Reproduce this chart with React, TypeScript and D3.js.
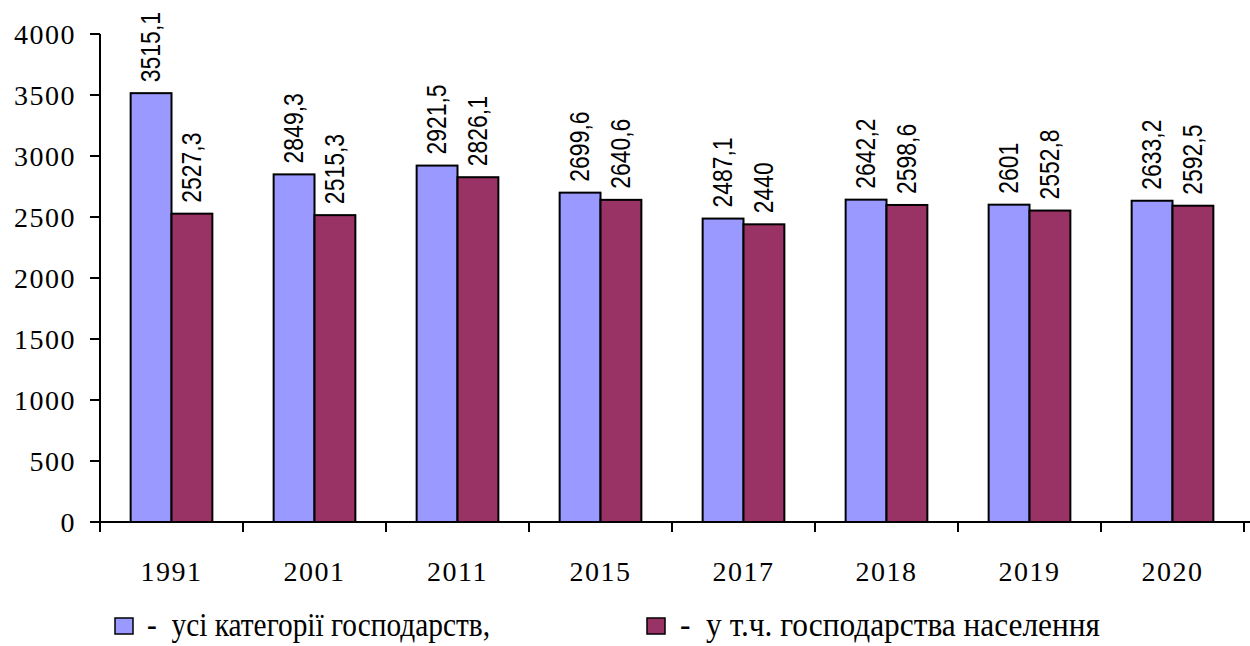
import React from 'react';
import * as d3 from 'd3';

const years = ['1991', '2001', '2011', '2015', '2017', '2018', '2019', '2020'];
const allFarms = [3515.1, 2849.3, 2921.5, 2699.6, 2487.1, 2642.2, 2601, 2633.2];
const households = [2527.3, 2515.3, 2826.1, 2640.6, 2440, 2598.6, 2552.8, 2592.5];
const yTicks = [0, 500, 1000, 1500, 2000, 2500, 3000, 3500, 4000];
const seriesNames = ['-  усі категорії господарств,', '-  у т.ч. господарства населення'];
const colors = ['#9999FF', '#993366'];

const W = 1250;
const H = 646;
const left = 100;
const right = 1244;
const top = 34;
const bottom = 522;

const fmt = (v: number) => String(v).replace('.', ',');

const App: React.FC = () => {
  const x = d3.scaleBand<string>().domain(years).range([left, right]);
  const y = d3.scaleLinear().domain([0, 4000]).range([bottom, top]);
  const inner = d3.scaleBand<number>().domain([0, 1]).range([0, x.bandwidth()]).paddingOuter(0.75).paddingInner(0);
  const serif = '"Liberation Serif", "Times New Roman", serif';
  const series = [allFarms, households];

  // legend placement
  const legend = [
    { sx: 115, tx: 147, len: 343 },
    { sx: 647, tx: 680, len: 420 },
  ];

  return (
    <svg width={W} height={H} style={{ position: 'absolute', left: 0, top: 0 }}>
      <rect width={W} height={H} fill="#fff" />
      {/* y axis */}
      <line x1={left} x2={left} y1={top} y2={bottom} stroke="#000" strokeWidth={2} />
      {yTicks.map(t => (
        <g key={t}>
          <line x1={left - 10} x2={left} y1={y(t)} y2={y(t)} stroke="#000" strokeWidth={2} />
          <text x={76} y={y(t)} dy="0.35em" textAnchor="end" fontFamily={serif} fontSize={28} letterSpacing={1.5}>{t}</text>
        </g>
      ))}
      {/* bars */}
      {years.map((yr, i) => (
        <g key={yr}>
          {series.map((s, k) => {
            const bx = (x(yr) as number) + (inner(k) as number);
            const bw = inner.bandwidth();
            const by = y(s[i]);
            return (
              <g key={k}>
                <rect x={bx} y={by} width={bw} height={bottom - by} fill={colors[k]} stroke="#000" strokeWidth={2} />
                <text transform={`translate(${bx + bw / 2 + 9},${by - 11}) rotate(-90) scale(0.85,1)`} fontFamily='"Liberation Sans", Arial, sans-serif' fontSize={27}>{fmt(s[i])}</text>
              </g>
            );
          })}
        </g>
      ))}
      {/* x axis */}
      <line x1={left - 10} x2={W} y1={bottom} y2={bottom} stroke="#000" strokeWidth={2} />
      {years.map(yr => (
        <line key={'t' + yr} x1={x(yr)} x2={x(yr)} y1={bottom} y2={bottom + 10} stroke="#000" strokeWidth={2} />
      ))}
      <line x1={right} x2={right} y1={bottom} y2={bottom + 10} stroke="#000" strokeWidth={2} />
      {years.map(yr => (
        <text key={'l' + yr} x={(x(yr) as number) + x.bandwidth() / 2} y={581} textAnchor="middle" fontFamily={serif} fontSize={28} letterSpacing={1.5}>{yr}</text>
      ))}
      {/* legend */}
      {seriesNames.map((n, k) => (
        <g key={n}>
          <rect x={legend[k].sx} y={618} width={18} height={16} fill={colors[k]} stroke="#000" strokeWidth={1.5} />
          <text x={legend[k].tx} y={636} fontFamily={serif} fontSize={33} textLength={legend[k].len} lengthAdjust="spacingAndGlyphs" style={{ whiteSpace: 'pre' }}>{n}</text>
        </g>
      ))}
    </svg>
  );
};

export default App;
